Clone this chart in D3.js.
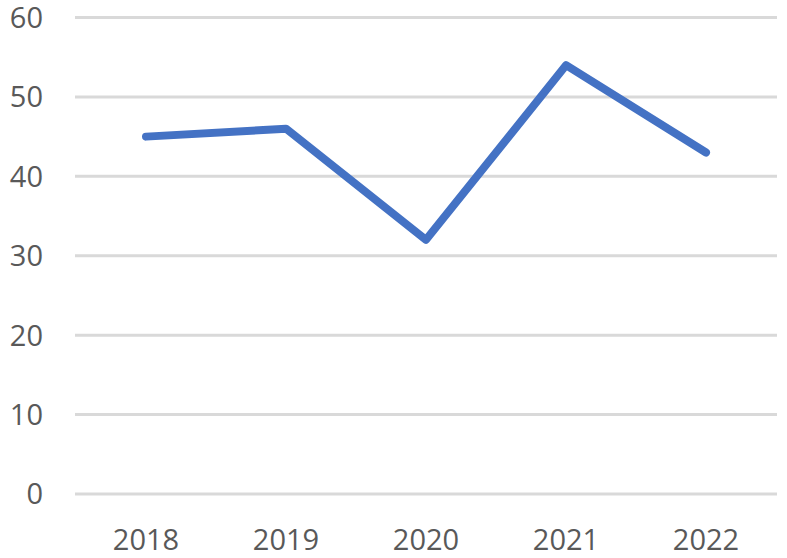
<!DOCTYPE html>
<html><head><meta charset="utf-8">
<script src="https://cdn.jsdelivr.net/npm/d3@7"></script>
<style>body{margin:0;background:#fff}svg{display:block}</style>
</head><body>
<script>
const years = ["2018","2019","2020","2021","2022"];
const values = [45, 46, 32, 54, 43];
const yTicks = [0,10,20,30,40,50,60];

const W = 787, H = 558;
const svg = d3.select("body").append("svg").attr("width", W).attr("height", H);

const x = d3.scalePoint().domain(years).range([146, 706]);
const y = d3.scaleLinear().domain([0, 60]).range([494, 17.5]);

// gridlines
svg.append("g").selectAll("line").data(yTicks).join("line")
  .attr("x1", 75).attr("x2", 777)
  .attr("y1", d => y(d)).attr("y2", d => y(d))
  .attr("stroke", "#d9d9d9").attr("stroke-width", 3);

// y labels
svg.append("g").selectAll("text").data(yTicks).join("text")
  .attr("x", 43).attr("y", d => y(d)).attr("dy", "0.36em")
  .attr("text-anchor", "end")
  .attr("font-family", "Open Sans, sans-serif").attr("font-size", 29)
  .attr("fill", "#595959").text(d => d);

// x labels
svg.append("g").selectAll("text").data(years).join("text")
  .attr("x", d => x(d)).attr("y", 550)
  .attr("text-anchor", "middle")
  .attr("font-family", "Open Sans, sans-serif").attr("font-size", 29)
  .attr("fill", "#595959").text(d => d);

// line
const line = d3.line().x((d,i) => x(years[i])).y(d => y(d));
svg.append("path").datum(values)
  .attr("d", line).attr("fill", "none")
  .attr("stroke", "#4472C4").attr("stroke-width", 8)
  .attr("stroke-linecap", "round").attr("stroke-linejoin", "round");
</script>
</body></html>
